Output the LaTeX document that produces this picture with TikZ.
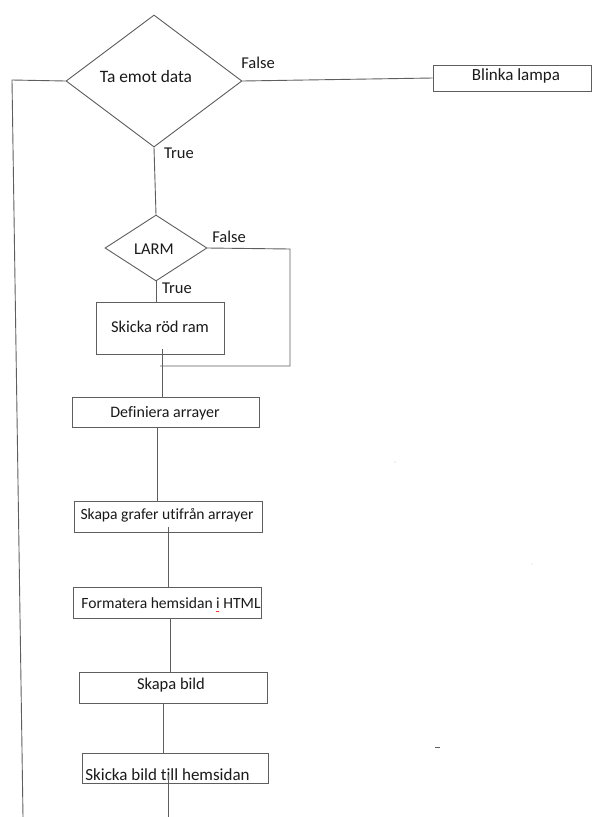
\documentclass[tikz,border=0pt]{standalone}
\usepackage{fontspec}
\setmainfont{Carlito}[Ligatures=NoCommon]
\usetikzlibrary{shapes.geometric}
\definecolor{ln}{HTML}{5E5E5E}
\definecolor{tx}{HTML}{1A1A1A}
\tikzset{
  dia/.style={diamond, draw=ln, line width=0.9pt, inner sep=0pt},
  box/.style={rectangle, draw=ln, line width=0.9pt, inner sep=0pt},
  txt/.style={text=tx, inner sep=0pt, font=\fontsize{16.5}{18}\selectfont},
  fs/.style={font=\fontsize{#1}{#1}\selectfont},
  con/.style={draw=ln, line width=0.9pt}
}
\begin{document}
\begin{tikzpicture}[x=1pt,y=-1pt]
\useasboundingbox (0,0) rectangle (592,817);
\fill[white] (0,0) rectangle (592,817);
% shapes
\node[dia, minimum width=176pt, minimum height=132pt] (d1) at (154,81) {};
\node[box, minimum width=158pt, minimum height=26pt] (b0) at (512,78) {};
\node[dia, minimum width=102pt, minimum height=66pt] (d2) at (156,248) {};
\node[box, minimum width=128pt, minimum height=52pt] (b1) at (160,328) {};
\node[box, minimum width=187pt, minimum height=30pt] (b2) at (165.5,412) {};
\node[box, minimum width=188pt, minimum height=31pt] (b3) at (168,516.5) {};
\node[box, minimum width=188pt, minimum height=31pt] (b4) at (167,602.5) {};
\node[box, minimum width=188pt, minimum height=31pt] (b5) at (173,687.5) {};
\node[box, minimum width=186pt, minimum height=30pt] (b6) at (175,768) {};
% texts
\node[txt, fs=17.4] (t1) at (146,77) {Ta emot data};
\node[txt] (f1) at (258,63) {False};
\node[txt] (r1) at (179,153) {True};
\node[txt, fs=17] (t0) at (516,76) {Blinka lampa};
\node[txt] (t2) at (154,249) {LARM};
\node[txt] (f2) at (229,237) {False};
\node[txt] (r2) at (177,288) {True};
\node[txt] (tb1) at (160,327) {Skicka röd ram};
\node[txt, fs=16] (tb2) at (165,413) {Definiera arrayer};
\node[txt, fs=15.6] (tb3) at (167,515) {Skapa grafer utifrån arrayer};
\node[txt, fs=15.6] (tb4) at (171,603) {Formatera hemsidan i HTML};
\node[txt] (tb5) at (171,685) {Skapa bild};
\node[txt, fs=17] (tb6) at (167.5,775) {Skicka bild till hemsidan};
% coordinates
\coordinate (lt) at (12,80);
\coordinate (lb) at (23,817);
\coordinate (rt) at (290,249);
\coordinate (rb) at (290,366);
\coordinate (jn) at (160,366);
\coordinate (endb) at (168,817);
% connectors
\draw[con] (d1.east) -- (b0.west);
\draw[con] (d1.west) -- (lt) -- (lb);
\draw[con] (d1.south) -- (d2.north);
\draw[con] (d2.east) -- (rt) -- (rb) -- (jn);
\draw[con] (d2.south) -- (d2.south |- b1.north);
\draw[con] ([xshift=2pt,yshift=5pt]b1.south) -- ([xshift=-3.5pt]b2.north);
\draw[con] ([xshift=-8.5pt]b2.south) -- ([xshift=-11pt]b3.north);
\draw[con] ([yshift=5pt]b3.south) -- ([xshift=1pt]b4.north);
\draw[con] ([xshift=3pt]b4.south) -- ([xshift=-3pt]b5.north);
\draw[con] ([xshift=-10pt]b5.south) -- ([xshift=-12pt]b6.north);
\draw[con] ([xshift=-7pt,yshift=8pt]b6.south) -- (endb);
% stray marks
\draw[red!80, line width=0.8pt] (215.5,611) -- (218.5,611);
\draw[ln, line width=1pt] (434.5,747) -- (439.5,747);
\fill[ln!60] (395,462) circle (0.5pt);
\fill[ln!40] (532,564) circle (0.5pt);
\end{tikzpicture}
\end{document}
